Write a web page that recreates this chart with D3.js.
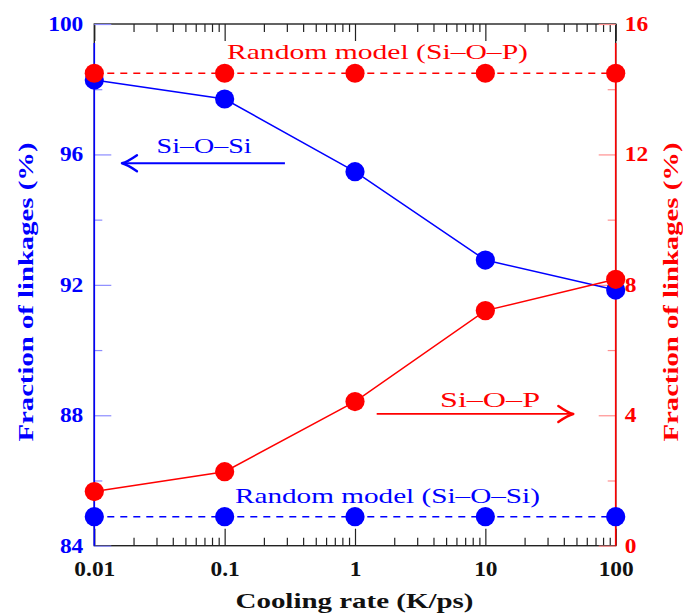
<!DOCTYPE html>
<html>
<head>
<meta charset="utf-8">
<script src="https://cdn.jsdelivr.net/npm/d3@7"></script>
<style>
  html, body { margin: 0; padding: 0; background: #fff; }
  svg { display: block; }
</style>
</head>
<body>
<svg id="chart" width="683" height="614"></svg>
<script>
// ---------------- data ----------------
const coolingRates = [0.01, 0.1, 1, 10, 100];
const xTickLabels = ["0.01", "0.1", "1", "10", "100"];
const siOSi = [98.28, 97.70, 95.47, 92.76, 91.84];       // left axis (%)
const siOP = [1.66, 2.27, 4.42, 7.21, 8.17];              // right axis (%)
const randomSiOSi = [84.89, 84.89, 84.89, 84.89, 84.89];  // left axis (%)
const randomSiOP = [14.49, 14.49, 14.49, 14.49, 14.49];   // right axis (%)
const leftTicks = [84, 88, 92, 96, 100];
const leftMinorTicks = [86, 90, 94, 98];
const rightTicks = [0, 4, 8, 12, 16];
const rightMinorTicks = [2, 6, 10, 14];
const xTitle = "Cooling rate (K/ps)";
const yTitle = "Fraction of linkages (%)";

// ---------------- layout ----------------
const FONT = "'Liberation Serif', serif";
const L = 94.3, R = 615.7, T = 24, B = 545.7;
const BLUE = "#0000ff", RED = "#ff0000";

const svg = d3.select("#chart").attr("font-family", FONT);
const x = d3.scaleLog().domain([0.01, 100]).range([L, R]);
const yL = d3.scaleLinear().domain([84, 100]).range([B, T]);
const yR = d3.scaleLinear().domain([0, 16]).range([B, T]);

const minorX = [];
[0.01, 0.1, 1, 10].forEach(d => { for (let m = 2; m <= 9; m++) minorX.push(+(d * m).toPrecision(3)); });

// frame
svg.append("rect").attr("x", L).attr("y", T).attr("width", R - L).attr("height", B - T)
  .attr("fill", "none").attr("stroke", "#222").attr("stroke-width", 1.4);

function styleAxis(g, tickColor, textColor, size) {
  g.attr("font-family", FONT);
  g.select(".domain").remove();
  g.selectAll(".tick line").attr("stroke", tickColor).attr("stroke-width", 1.2);
  g.selectAll(".tick text").attr("fill", textColor).attr("font-size", size)
    .attr("font-weight", "bold").style("font-family", FONT);
}

// bottom axis
const gb = svg.append("g").attr("transform", `translate(0,${B})`)
  .call(d3.axisBottom(x).tickValues(coolingRates).tickSize(-17).tickPadding(16)
    .tickFormat((d, i) => xTickLabels[i]));
styleAxis(gb, "#222", "#111", 20);
const gbm = svg.append("g").attr("transform", `translate(0,${B})`)
  .call(d3.axisBottom(x).tickValues(minorX).tickSize(-8).tickFormat(""));
styleAxis(gbm, "#222", "#111", 20);
// top axis
const gt = svg.append("g").attr("transform", `translate(0,${T})`)
  .call(d3.axisTop(x).tickValues(coolingRates).tickSize(-17).tickFormat(""));
styleAxis(gt, "#222", "#111", 20);
const gtm = svg.append("g").attr("transform", `translate(0,${T})`)
  .call(d3.axisTop(x).tickValues(minorX).tickSize(-8).tickFormat(""));
styleAxis(gtm, "#222", "#111", 20);

// left axis
const gl = svg.append("g").attr("transform", `translate(${L},0)`)
  .call(d3.axisLeft(yL).tickValues(leftTicks).tickSize(-17).tickPadding(11).tickFormat(d3.format("d")));
styleAxis(gl, "#8c8cff", BLUE, 20);
const glm = svg.append("g").attr("transform", `translate(${L},0)`)
  .call(d3.axisLeft(yL).tickValues(leftMinorTicks).tickSize(-8).tickFormat(""));
styleAxis(glm, "#8c8cff", BLUE, 20);
// right axis
const gr = svg.append("g").attr("transform", `translate(${R},0)`)
  .call(d3.axisRight(yR).tickValues(rightTicks).tickSize(-17).tickPadding(9).tickFormat(d3.format("d")));
styleAxis(gr, "#ff9090", RED, 20);
const grm = svg.append("g").attr("transform", `translate(${R},0)`)
  .call(d3.axisRight(yR).tickValues(rightMinorTicks).tickSize(-8).tickFormat(""));
styleAxis(grm, "#ff9090", RED, 20);

// widen tick labels towards the original Computer Modern proportions
svg.selectAll(".tick text").each(function () {
  const w = this.getComputedTextLength();
  if (w > 0) d3.select(this).attr("textLength", w * 1.17).attr("lengthAdjust", "spacingAndGlyphs");
});

// coloured axis lines
svg.append("line").attr("x1", L).attr("x2", L).attr("y1", yL(99.42)).attr("y2", B)
  .attr("stroke", BLUE).attr("stroke-width", 1.6);
svg.append("line").attr("x1", R).attr("x2", R).attr("y1", yR(15.42)).attr("y2", B)
  .attr("stroke", RED).attr("stroke-width", 1.6);

// ---------------- series ----------------
function series(values, yScale, color, dashed) {
  const pts = coolingRates.map((c, i) => [c, values[i]]);
  svg.append("path").datum(pts)
    .attr("d", d3.line().x(d => x(d[0])).y(d => yScale(d[1])))
    .attr("fill", "none").attr("stroke", color).attr("stroke-width", 1.5)
    .attr("stroke-dasharray", dashed ? "7,6" : null);
  svg.append("g").selectAll("circle").data(pts).join("circle")
    .attr("cx", d => x(d[0])).attr("cy", d => yScale(d[1])).attr("r", 9.6)
    .attr("fill", color);
}
series(randomSiOSi, yL, BLUE, true);
series(siOSi, yL, BLUE, false);
series(randomSiOP, yR, RED, true);
series(siOP, yR, RED, false);

// ---------------- annotations ----------------
const labels = [
  { text: "Random model (Si–O–P)", x: 1.488, y: 14.93, scale: "R", color: RED, w: 301 },
  { text: "Random model (Si–O–Si)", x: 1.775, y: 85.32, scale: "L", color: BLUE, w: 305 },
  { text: "Si–O–Si", x: 0.0695, y: 96.03, scale: "L", color: BLUE, w: 95 },
  { text: "Si–O–P", x: 10.86, y: 4.263, scale: "R", color: RED, w: 100 }
];
labels.forEach(l => {
  const ys = l.scale === "L" ? yL : yR;
  svg.append("text").attr("x", x(l.x)).attr("y", ys(l.y))
    .attr("text-anchor", "middle").attr("fill", l.color)
    .attr("font-size", 21).style("font-family", FONT)
    .attr("textLength", l.w).attr("lengthAdjust", "spacingAndGlyphs")
    .text(l.text);
});

const arrows = [
  { x0: 0.29, x1: 0.0163, y: 95.73, scale: "L", color: BLUE },
  { x0: 1.467, x1: 47.3, y: 4.04, scale: "R", color: RED }
];
arrows.forEach(a => {
  const ys = a.scale === "L" ? yL : yR;
  const X0 = x(a.x0), X1 = x(a.x1), Y = ys(a.y);
  const d = X1 > X0 ? 1 : -1;
  svg.append("line").attr("x1", X0).attr("x2", X1 - d * 1).attr("y1", Y).attr("y2", Y)
    .attr("stroke", a.color).attr("stroke-width", 1.8);
  const Lh = 15, h = 8, bx = X1 - d * Lh;
  svg.append("path")
    .attr("d", `M${bx},${Y - h} Q${X1 - d * Lh * 0.35},${Y - h * 0.15} ${X1},${Y} Q${X1 - d * Lh * 0.35},${Y + h * 0.15} ${bx},${Y + h}`)
    .attr("fill", "none").attr("stroke", a.color).attr("stroke-width", 2.4)
    .attr("stroke-linecap", "round").attr("stroke-linejoin", "round");
});

// ---------------- titles ----------------
svg.append("text").attr("x", (L + R) / 2 - 0.5).attr("y", 608)
  .attr("text-anchor", "middle").attr("fill", "#111").attr("font-size", 21).attr("font-weight", "bold")
  .style("font-family", FONT)
  .attr("textLength", 238).attr("lengthAdjust", "spacingAndGlyphs").text(xTitle);
svg.append("text").attr("transform", `translate(33,292) rotate(-90)`)
  .attr("text-anchor", "middle").attr("fill", BLUE).attr("font-size", 21).attr("font-weight", "bold")
  .style("font-family", FONT)
  .attr("textLength", 299).attr("lengthAdjust", "spacingAndGlyphs").text(yTitle);
svg.append("text").attr("transform", `translate(678,292) rotate(-90)`)
  .attr("text-anchor", "middle").attr("fill", RED).attr("font-size", 21).attr("font-weight", "bold")
  .style("font-family", FONT)
  .attr("textLength", 299).attr("lengthAdjust", "spacingAndGlyphs").text(yTitle);
</script>
</body>
</html>
